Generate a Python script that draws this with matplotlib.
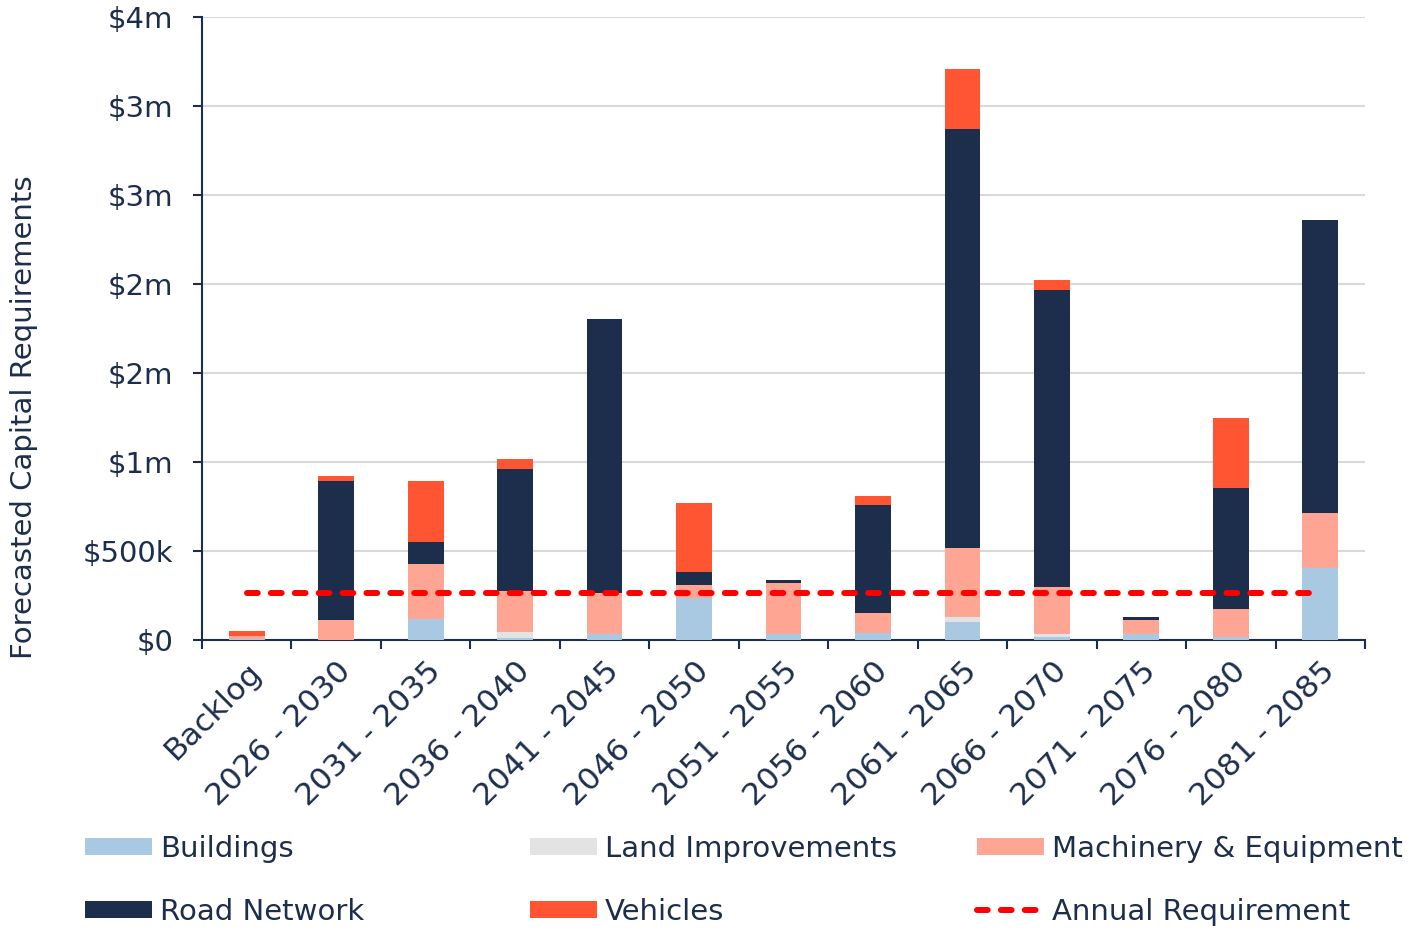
import numpy as np
import matplotlib
matplotlib.use("Agg")
import matplotlib.pyplot as plt
import matplotlib.ticker as mtick
from matplotlib.patches import Patch
from matplotlib.lines import Line2D

# values in $ thousands
categories = ["Backlog", "2026 - 2030", "2031 - 2035", "2036 - 2040", "2041 - 2045",
              "2046 - 2050", "2051 - 2055", "2056 - 2060", "2061 - 2065", "2066 - 2070",
              "2071 - 2075", "2076 - 2080", "2081 - 2085"]
buildings = [5, 0, 120, 13, 34, 238, 34, 39, 101, 15, 32, 15, 406]
land_improvements = [0, 0, 0, 32, 0, 0, 0, 0, 28, 17, 0, 0, 0]
machinery = [20, 110, 305, 230, 230, 73, 288, 111, 390, 266, 82, 157, 306]
road_network = [0, 785, 127, 686, 1538, 71, 13, 608, 2352, 1670, 15, 684, 1648]
vehicles = [25, 28, 341, 54, 0, 389, 0, 53, 339, 54, 0, 393, 0]
annual_requirement = [264] * len(categories)

NAVY = "#1D2E4C"
series = [
    ("Buildings", buildings, "#A9C9E2"),
    ("Land Improvements", land_improvements, "#E3E3E3"),
    ("Machinery & Equipment", machinery, "#FFA593"),
    ("Road Network", road_network, NAVY),
    ("Vehicles", vehicles, "#FF5532"),
]
FS = 21

plt.rcParams["font.family"] = ["DejaVu Sans"]
plt.rcParams["text.color"] = NAVY

fig = plt.figure(figsize=(14.2, 9.3), dpi=100)
ax = fig.add_axes([202 / 1420, 1 - 640 / 930, 1163 / 1420, 623 / 930])

x = np.arange(len(categories))
bottom = np.zeros(len(categories))
handles = {}
for name, vals, color in series:
    v = np.array(vals, dtype=float) * 1e3
    ax.bar(x, v, width=0.4, bottom=bottom, color=color, linewidth=0, zorder=3)
    bottom += v
    handles[name] = Patch(facecolor=color, label=name)

dash = (0, (1.8, 2.2))
ax.plot(x, np.array(annual_requirement) * 1e3, color="#FF0000", linewidth=4.3,
        linestyle=dash, dash_capstyle="round", zorder=4)
handles["Annual Requirement"] = Line2D([], [], color="#FF0000", linewidth=4.3,
                                       linestyle=dash, dash_capstyle="round")

ax.set_xlim(-0.5, len(categories) - 0.5)
ax.set_ylim(0, 3.5e6)
ax.yaxis.set_major_locator(mtick.MultipleLocator(5e5))


def money(v, pos):
    if v == 0:
        return "$0"
    if v < 1e6:
        return f"${v / 1e3:.0f}k"
    return f"${int(v / 1e6 + 0.5)}m"


ax.yaxis.set_major_formatter(mtick.FuncFormatter(money))
ax.grid(axis="y", color="#D9D9D9", linewidth=1.5, zorder=0)
ax.set_axisbelow(True)

for s in ["top", "right"]:
    ax.spines[s].set_visible(False)
for s in ["left", "bottom"]:
    ax.spines[s].set_color(NAVY)
    ax.spines[s].set_linewidth(1.5)

ax.tick_params(axis="y", length=6.5, width=1.5, color=NAVY, labelcolor=NAVY,
               labelsize=FS, pad=14)
ax.set_xticks(x)
ax.set_xticks(np.arange(-0.5, len(categories)), minor=True)
ax.tick_params(axis="x", which="major", length=0, labelcolor=NAVY, labelsize=22.5, pad=12)
ax.tick_params(axis="x", which="minor", length=6.5, width=1.5, color=NAVY)
ax.set_xticklabels(categories, rotation=45, ha="right", rotation_mode="anchor")

fig.text(24 / 1420, 1 - 417 / 930, "Forecasted Capital Requirements", rotation=90,
         ha="center", va="center", fontsize=FS, color=NAVY)

legend_cols = [
    (["Buildings", "Road Network"], 73),
    (["Land Improvements", "Vehicles"], 518),
    (["Machinery & Equipment", "Annual Requirement"], 965),
]
for names, px in legend_cols:
    fig.legend([handles[n] for n in names], names, loc="upper left",
               bbox_to_anchor=(px / 1420, 1 - 823 / 930), frameon=False,
               fontsize=FS, labelcolor=NAVY, handlelength=2.3, handleheight=0.55,
               handletextpad=0.28, labelspacing=1.2, borderaxespad=0)

fig.savefig("out.png", dpi=100)
